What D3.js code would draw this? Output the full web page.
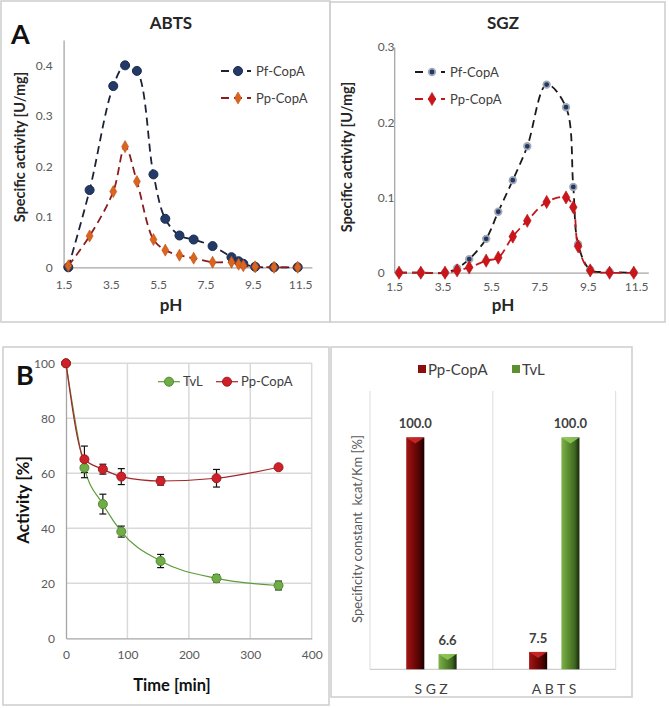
<!DOCTYPE html>
<html>
<head>
<meta charset="utf-8">
<script src="https://cdn.jsdelivr.net/npm/d3@7"></script>
<style>
  body { margin: 0; background: #fff; }
  svg { display: block; font-family: Lato, "Open Sans", sans-serif; }
  .tick text { fill: #595959; }
</style>
</head>
<body>
<div id="figure"></div>
<script>
//data

//panel A: pH profiles (same pH points for both substrates)
const pH = [1.7, 2.6, 3.6, 4.1, 4.6, 5.3, 5.8, 6.4, 7.0, 7.8, 8.6, 8.9, 9.1, 9.6, 10.4, 11.4];
const abtsPf = [0, 0.153, 0.359, 0.400, 0.389, 0.184, 0.096, 0.063, 0.055, 0.042, 0.020, 0.012, 0.007, 0.001, 0, 0];
const abtsPp = [0.003, 0.062, 0.150, 0.239, 0.170, 0.055, 0.034, 0.024, 0.018, 0.010, 0.010, 0.006, 0.003, 0.001, 0, 0];
const sgzPf = [0, 0, 0, 0.006, 0.018, 0.045, 0.081, 0.123, 0.168, 0.250, 0.220, 0.114, 0.038, 0.004, 0.001, 0];
const sgzPp = [0, 0, 0, 0.003, 0.007, 0.016, 0.020, 0.048, 0.069, 0.094, 0.100, 0.087, 0.035, 0.003, 0, 0];
const pHTicks = [1.5, 3.5, 5.5, 7.5, 9.5, 11.5];
const abtsTicks = [0, 0.1, 0.2, 0.3, 0.4];
const sgzTicks = [0, 0.1, 0.2, 0.3];

//panel B left: stability over time
const time = [0, 30, 60, 90, 154, 245, 346];
const tvl = [100, 62.0, 48.8, 38.8, 28.1, 21.8, 19.2];
const tvlErr = [0, 3.6, 3.6, 2.0, 2.4, 1.3, 1.6];
const ppCopA = [100, 65.1, 61.5, 58.8, 57.2, 58.2, 62.2];
const ppCopAErr = [0, 4.8, 1.8, 2.9, 1.5, 3.2, 0.5];
const timeTicks = [0, 100, 200, 300, 400];
const activityTicks = [0, 20, 40, 60, 80, 100];

//panel B right: specificity constant
const substrates = ["SGZ", "ABTS"];
const enzymes = ["Pp-CopA", "TvL"];
const kcatKm = {"Pp-CopA": [100.0, 7.5], "TvL": [6.6, 100.0]};

const W = 669, H = 708;
const fontTitle = "Lato, 'Open Sans', sans-serif";

const svg = d3.select("#figure")
	.append("svg")
	.attr("width", W)
	.attr("height", H);

svg.append("rect").attr("width", W).attr("height", H).attr("fill", "#fff");

const defs = svg.append("defs");

//panel frames
function frame(x1, y1, x2, y2) {
	svg.append("rect")
		.attr("x", x1).attr("y", y1)
		.attr("width", x2 - x1).attr("height", y2 - y1)
		.attr("fill", "none")
		.attr("stroke", "#d0d0d0")
		.attr("stroke-width", 1.6);
}
frame(1, 1, 330, 322);
frame(330, 2, 665, 322);
frame(3, 347, 329, 705);
frame(331, 347, 632, 697);

function styleAxis(g) {
	g.select(".domain").attr("stroke", "#a6a6a6").attr("stroke-width", 1.3);
	g.selectAll(".tick text").attr("font-size", 12).attr("font-family", fontTitle);
}

//one pH panel (ABTS or SGZ)
function drawPhPanel(p) {
	const x = d3.scaleLinear().domain([1.5, 12]).range(p.xRange);
	const y = d3.scaleLinear().domain(p.yDomain).range(p.yRange);

	svg.append("g")
		.attr("transform", "translate(0," + p.yRange[0] + ")")
		.call(d3.axisBottom(x).tickValues(pHTicks).tickSize(0).tickSizeOuter(0)
			.tickPadding(p.xPad).tickFormat(d3.format(".1f")))
		.call(styleAxis);

	const yAxis = svg.append("g")
		.attr("transform", "translate(" + p.xRange[0] + ",0)")
		.call(d3.axisLeft(y).tickValues(p.yTicks).tickSize(0).tickSizeOuter(0)
			.tickPadding(p.yPad).tickFormat(d => d === 0 ? "0" : d3.format(".1f")(d)))
		.call(styleAxis);
	if (p.yAnchor) yAxis.selectAll(".tick text").attr("text-anchor", p.yAnchor).attr("x", p.yLabelX);

	const line = d3.line()
		.x(d => x(d[0]))
		.y(d => y(d[1]))
		.curve(d3.curveCatmullRom.alpha(0.5));

	p.series.forEach(s => {
		const pts = pH.map((v, i) => [v, s.values[i]]);
		svg.append("path")
			.datum(pts)
			.attr("d", line)
			.attr("fill", "none")
			.attr("stroke", s.line)
			.attr("stroke-width", 1.8)
			.attr("stroke-dasharray", "8,5");
		svg.append("g").selectAll("path")
			.data(pts)
			.enter()
			.append("path")
			.attr("transform", d => "translate(" + x(d[0]) + "," + y(d[1]) + ")")
			.attr("d", d3.symbol().type(s.symbol).size(s.size))
			.attr("fill", s.fill)
			.attr("stroke", s.stroke)
			.attr("stroke-width", s.strokeWidth);

		//legend entry
		const ly = s.legendY;
		svg.append("line")
			.attr("x1", p.legendX).attr("x2", p.legendX + 30)
			.attr("y1", ly).attr("y2", ly)
			.attr("stroke", s.line).attr("stroke-width", 1.8)
			.attr("stroke-dasharray", "8,5");
		svg.append("path")
			.attr("transform", "translate(" + (p.legendX + 17) + "," + ly + ")")
			.attr("d", d3.symbol().type(s.symbol).size(s.size))
			.attr("fill", s.fill)
			.attr("stroke", s.stroke)
			.attr("stroke-width", s.strokeWidth);
		svg.append("text")
			.attr("x", p.legendX + 35).attr("y", ly + 4.5)
			.attr("font-size", 13)
			.attr("fill", "#404040")
			.text(s.name);
	});

	svg.append("text")
		.attr("x", p.titleX).attr("y", 29)
		.attr("text-anchor", "middle")
		.attr("font-size", 17).attr("font-weight", "bold")
		.attr("fill", "#262626")
		.text(p.title);
	svg.append("text")
		.attr("x", p.titleX).attr("y", 311)
		.attr("text-anchor", "middle")
		.attr("font-size", 17).attr("font-weight", "bold")
		.attr("fill", "#262626")
		.text("pH");
	svg.append("text")
		.attr("transform", "translate(" + p.yTitleX + "," + p.yTitleY + ") rotate(-90)")
		.attr("text-anchor", "middle")
		.attr("font-size", 14.5).attr("font-weight", "bold")
		.attr("fill", "#262626")
		.text("Specific activity [U/mg]");
}

drawPhPanel({
	title: "ABTS", titleX: 171,
	xRange: [63.6, 311.9], yDomain: [0, 0.45], yRange: [267.3, 40.1],
	yTicks: abtsTicks, xPad: 13, yPad: 11,
	yTitleX: 25, yTitleY: 147,
	legendX: 221,
	series: [
		{name: "Pf-CopA", values: abtsPf, line: "#1c2238", fill: "#243a66", stroke: "#1a2b4f", strokeWidth: 1,
		 symbol: d3.symbolCircle, size: 64, legendY: 71},
		{name: "Pp-CopA", values: abtsPp, line: "#8b1c1c", fill: "#d9651e", stroke: "#c0501a", strokeWidth: 0.6,
		 symbol: d3.symbolDiamond, size: 42, legendY: 98}
	]
});

drawPhPanel({
	title: "SGZ", titleX: 503,
	xRange: [394.2, 648.3], yDomain: [0, 0.3], yRange: [272.7, 47],
	yTicks: sgzTicks, xPad: 10, yPad: 4, yAnchor: "start", yLabelX: -16.5,
	yTitleX: 352, yTitleY: 157,
	legendX: 415,
	series: [
		{name: "Pf-CopA", values: sgzPf, line: "#1a1a1a", fill: "#1f3864", stroke: "#a3a9b4", strokeWidth: 1.8,
		 symbol: d3.symbolCircle, size: 34, legendY: 72},
		{name: "Pp-CopA", values: sgzPp, line: "#c0161c", fill: "#cc1419", stroke: "#b01015", strokeWidth: 0.6,
		 symbol: d3.symbolDiamond, size: 50, legendY: 99}
	]
});

//panel letters
svg.append("text").attr("x", 11).attr("y", 44)
	.attr("font-size", 27).attr("font-weight", "bold").attr("fill", "#111").text("A");
svg.append("text").attr("x", 16).attr("y", 385)
	.attr("font-size", 27).attr("font-weight", "bold").attr("fill", "#111").text("B");

//stability panel
function drawStability() {
	const x = d3.scaleLinear().domain([0, 400]).range([66, 311.7]);
	const y = d3.scaleLinear().domain([0, 100]).range([638.3, 363.3]);

	//grid
	svg.append("g").selectAll("line")
		.data(activityTicks.slice(1))
		.enter().append("line")
		.attr("x1", x(0)).attr("x2", x(400))
		.attr("y1", d => y(d)).attr("y2", d => y(d))
		.attr("stroke", "#d9d9d9").attr("stroke-width", 1.5);
	svg.append("g").selectAll("line")
		.data(timeTicks.slice(1))
		.enter().append("line")
		.attr("x1", d => x(d)).attr("x2", d => x(d))
		.attr("y1", y(0)).attr("y2", y(100))
		.attr("stroke", "#d9d9d9").attr("stroke-width", 1.5);

	svg.append("g")
		.attr("transform", "translate(0," + y(0) + ")")
		.call(d3.axisBottom(x).tickValues(timeTicks).tickSize(0).tickSizeOuter(0).tickPadding(12))
		.call(styleAxis);
	svg.append("g")
		.attr("transform", "translate(" + x(0) + ",0)")
		.call(d3.axisLeft(y).tickValues(activityTicks).tickSize(0).tickSizeOuter(0).tickPadding(11))
		.call(styleAxis);

	const line = d3.line()
		.x(d => x(d.t))
		.y(d => y(d.v))
		.curve(d3.curveMonotoneX);

	const series = [
		{name: "TvL", values: tvl, err: tvlErr, line: "#5d9b3a", fill: "#70ad47", stroke: "#4f8a30", legendX: 158},
		{name: "Pp-CopA", values: ppCopA, err: ppCopAErr, line: "#a3262a", fill: "#d0202a", stroke: "#a01a1f", legendX: 216}
	];

	series.forEach(s => {
		const pts = time.map((t, i) => ({t: t, v: s.values[i], e: s.err[i]}));
		svg.append("path")
			.datum(pts)
			.attr("d", line)
			.attr("fill", "none")
			.attr("stroke", s.line)
			.attr("stroke-width", 1.2);
	});

	//error bars on top of lines, then the markers
	series.forEach(s => {
		const pts = time.map((t, i) => ({t: t, v: s.values[i], e: s.err[i]})).filter(d => d.e > 0);
		const eb = svg.append("g").selectAll("g").data(pts).enter().append("g")
			.attr("stroke", "#111").attr("stroke-width", 1.2);
		eb.append("line")
			.attr("x1", d => x(d.t)).attr("x2", d => x(d.t))
			.attr("y1", d => y(d.v - d.e)).attr("y2", d => y(d.v + d.e));
		eb.append("line")
			.attr("x1", d => x(d.t) - 3.5).attr("x2", d => x(d.t) + 3.5)
			.attr("y1", d => y(d.v - d.e)).attr("y2", d => y(d.v - d.e));
		eb.append("line")
			.attr("x1", d => x(d.t) - 3.5).attr("x2", d => x(d.t) + 3.5)
			.attr("y1", d => y(d.v + d.e)).attr("y2", d => y(d.v + d.e));
	});

	series.forEach(s => {
		svg.append("g").selectAll("circle")
			.data(time.map((t, i) => ({t: t, v: s.values[i]})))
			.enter().append("circle")
			.attr("cx", d => x(d.t)).attr("cy", d => y(d.v))
			.attr("r", 4.5)
			.attr("fill", s.fill)
			.attr("stroke", s.stroke)
			.attr("stroke-width", 1);

		svg.append("line")
			.attr("x1", s.legendX).attr("x2", s.legendX + 22)
			.attr("y1", 381.7).attr("y2", 381.7)
			.attr("stroke", s.line).attr("stroke-width", 1.2);
		svg.append("circle")
			.attr("cx", s.legendX + 11).attr("cy", 381.7).attr("r", 4.5)
			.attr("fill", s.fill).attr("stroke", s.stroke);
		svg.append("text")
			.attr("x", s.legendX + 25).attr("y", 386)
			.attr("font-size", 13).attr("fill", "#404040")
			.text(s.name);
	});

	svg.append("text")
		.attr("x", 172).attr("y", 691)
		.attr("text-anchor", "middle")
		.attr("font-size", 16.5).attr("font-weight", "bold").attr("fill", "#111")
		.text("Time [min]");
	svg.append("text")
		.attr("transform", "translate(29,500) rotate(-90)")
		.attr("text-anchor", "middle")
		.attr("font-size", 17).attr("font-weight", "bold").attr("fill", "#111")
		.text("Activity [%]");
}
drawStability();

//specificity constant bars
function barGradient(id, stops) {
	const g = defs.append("linearGradient").attr("id", id)
		.attr("x1", "0%").attr("x2", "100%").attr("y1", "0%").attr("y2", "0%");
	stops.forEach(s => g.append("stop").attr("offset", s[0]).attr("stop-color", s[1]));
}
barGradient("gradPp", [["0%", "#a31616"], ["35%", "#7e0a0a"], ["75%", "#4d0303"], ["100%", "#140000"]]);
barGradient("gradTvL", [["0%", "#7fb24c"], ["35%", "#5e9031"], ["75%", "#3e6621"], ["100%", "#162608"]]);

function drawSpecificity() {
	const x0 = d3.scaleBand().domain(substrates).range([370, 615.7]).padding(0);
	const b = x0.bandwidth();
	const x1 = d3.scaleBand().domain(enzymes).range([b * 0.295, b * 0.705]).paddingInner(0.44);
	const y = d3.scaleLinear().domain([0, 120]).range([669.3, 391]);
	const grad = {"Pp-CopA": "url(#gradPp)", "TvL": "url(#gradTvL)"};
	const topCol = {"Pp-CopA": "#d42a2a", "TvL": "#93cc5c"};
	const legendCol = {"Pp-CopA": "#8b0d0d", "TvL": "#5e9031"};

	//frame lines of the category areas
	svg.append("g").selectAll("line")
		.data(substrates.concat(["end"]))
		.enter().append("line")
		.attr("x1", d => d === "end" ? x0.range()[1] : x0(d))
		.attr("x2", d => d === "end" ? x0.range()[1] : x0(d))
		.attr("y1", y(120)).attr("y2", y(0))
		.attr("stroke", "#dcdcdc").attr("stroke-width", 1);
	svg.append("line")
		.attr("x1", x0.range()[0]).attr("x2", x0.range()[1])
		.attr("y1", y(0)).attr("y2", y(0))
		.attr("stroke", "#cfcfcf").attr("stroke-width", 1.3);

	const cells = [];
	substrates.forEach((sub, i) => enzymes.forEach(en => cells.push({sub: sub, en: en, v: kcatKm[en][i]})));

	const bar = svg.append("g").selectAll("g").data(cells).enter().append("g");
	bar.append("rect")
		.attr("x", d => x0(d.sub) + x1(d.en))
		.attr("y", d => y(d.v))
		.attr("width", x1.bandwidth())
		.attr("height", d => y(0) - y(d.v))
		.attr("fill", d => grad[d.en]);
	bar.append("path")
		.attr("d", d => {
			const l = x0(d.sub) + x1(d.en), r = l + x1.bandwidth(), t = y(d.v);
			return "M" + l + "," + t + "L" + r + "," + t + "L" + (l + r) / 2 + "," + (t + 6) + "Z";
		})
		.attr("fill", d => topCol[d.en])
		.attr("opacity", 0.85);
	bar.append("text")
		.attr("x", d => x0(d.sub) + x1(d.en) + x1.bandwidth() / 2)
		.attr("y", d => y(d.v) - 9)
		.attr("text-anchor", "middle")
		.attr("font-size", 13).attr("font-weight", "bold").attr("fill", "#404040")
		.text(d => d3.format(".1f")(d.v));

	//category labels
	svg.append("g").selectAll("text")
		.data(substrates)
		.enter().append("text")
		.attr("x", d => x0(d) + b / 2 + 1.5)
		.attr("y", 694)
		.attr("text-anchor", "middle")
		.attr("font-size", 14).attr("letter-spacing", 3.5).attr("fill", "#404040")
		.text(d => d);

	//legend
	const legend = [{en: "Pp-CopA", x: 418}, {en: "TvL", x: 512}];
	legend.forEach(l => {
		svg.append("rect").attr("x", l.x).attr("y", 365).attr("width", 8).attr("height", 8)
			.attr("fill", legendCol[l.en]);
		svg.append("text").attr("x", l.x + 10).attr("y", 374.5)
			.attr("font-size", 15).attr("fill", "#404040").text(l.en);
	});

	svg.append("text")
		.attr("transform", "translate(362,529) rotate(-90)")
		.attr("text-anchor", "middle")
		.attr("font-size", 13).attr("fill", "#595959")
		.attr("xml:space", "preserve")
		.text("Specificity constant  kcat/Km [%]");
}
drawSpecificity();
</script>
</body>
</html>
